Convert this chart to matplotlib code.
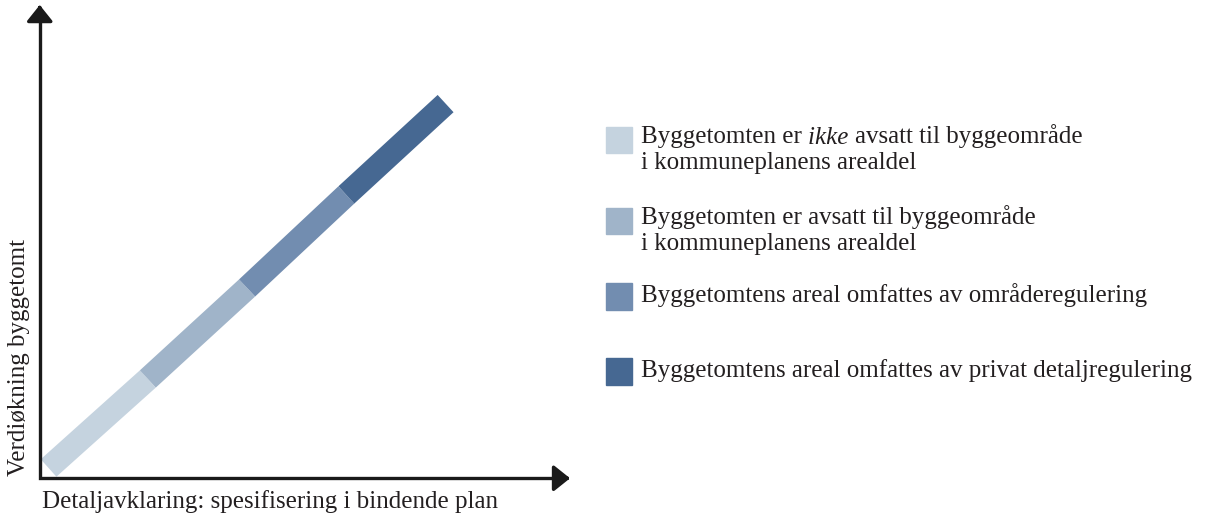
import matplotlib.pyplot as plt
from matplotlib.patches import Rectangle

plt.rcParams["font.family"] = ["Liberation Serif", "DejaVu Serif"]

# stages along the band (start / end in arbitrary units of clarification and value)
stage_lines = [
    [["Byggetomten er ", ("ikke ", "italic"), "avsatt til byggeområde"],
     ["i kommuneplanens arealdel"]],
    [["Byggetomten er avsatt til byggeområde"], ["i kommuneplanens arealdel"]],
    [["Byggetomtens areal omfattes av områderegulering"]],
    [["Byggetomtens areal omfattes av privat detaljregulering"]],
]
stage_x = [0.0, 1.0, 2.0, 3.0, 4.0]
stage_value = [0.0, 0.977, 1.976, 2.997, 4.0]
colors = ["#c5d3df", "#a0b4c9", "#728db0", "#466892"]

x_label = "Detaljavklaring: spesifisering i bindende plan"
y_label = "Verdiøkning byggetomt"

W, H = 1208, 517
fig = plt.figure(figsize=(W / 100, H / 100), dpi=100)
ax = fig.add_axes([0.0329, 0.0749, 0.439, 0.9154])
ax.set_xlim(-0.089, 5.254)
ax.set_ylim(-0.113, 5.082)
ax.axis("off")

for i in range(4):
    ax.plot(stage_x[i:i + 2], stage_value[i:i + 2], color=colors[i],
            lw=16.9, solid_capstyle="butt")

# axes with arrow heads
axis_col = "#1a1a1a"
ax.plot([0, 0, 0.985], [0.985, 0, 0], transform=ax.transAxes, color=axis_col,
        lw=2.4, solid_joinstyle="miter", solid_capstyle="butt",
        clip_on=False)
arrow = dict(arrowstyle="-|>,head_length=1.0,head_width=0.8", lw=2.4,
             color=axis_col, mutation_scale=10, shrinkA=0, shrinkB=0)
ax.annotate("", xy=(1, 0), xytext=(0.99, 0), xycoords="axes fraction",
            arrowprops=arrow)
ax.annotate("", xy=(0, 1), xytext=(0, 0.99), xycoords="axes fraction",
            arrowprops=arrow)

txt = "#231f20"
fs = 18
fig.text(42 / W, 1 - 508.3 / H, x_label, ha="left", va="baseline",
         fontsize=fs, color=txt)
fig.text(19 / W, 1 - 357 / H, y_label, ha="center", va="center", rotation=90,
         fontsize=fs, color=txt)

# legend drawn by hand
box_top = [126.7, 207.7, 283.3, 358.3]
baselines = [[143.5, 169.0], [224.3, 250.0], [301.7], [376.7]]
renderer = fig.canvas.get_renderer()
for lines, c, bt, bls in zip(stage_lines, colors, box_top, baselines):
    fig.patches.append(Rectangle((606 / W, 1 - (bt + 26.3) / H), 26.3 / W,
                                 26.3 / H, color=c, transform=fig.transFigure))
    for parts, bl in zip(lines, bls):
        x = 641
        for p in parts:
            style = "normal"
            if isinstance(p, tuple):
                p, style = p
            t = fig.text(x / W, 1 - bl / H, p, ha="left", va="baseline",
                         fontsize=fs, color=txt, style=style)
            x += t.get_window_extent(renderer).width

fig.savefig("out.png", dpi=100)
